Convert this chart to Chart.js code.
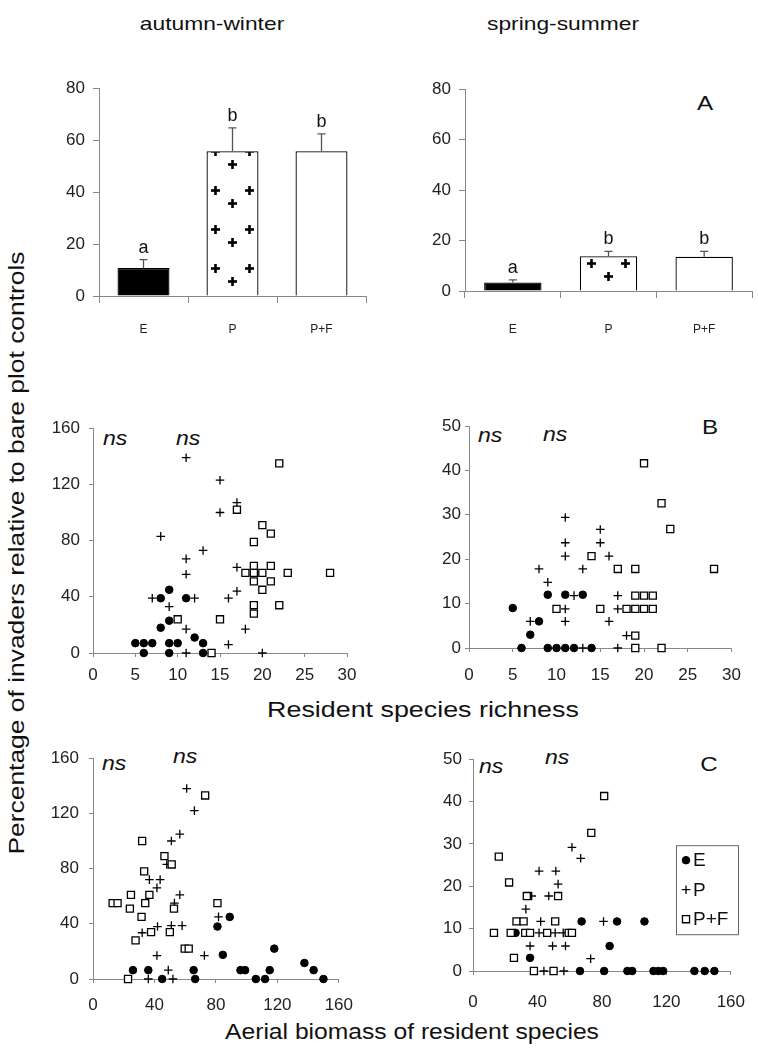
<!DOCTYPE html>
<html>
<head>
<meta charset="utf-8">
<script src="https://cdn.jsdelivr.net/npm/chart.js@4.4.1/dist/chart.umd.min.js"></script>
<style>
  body { margin: 0; background: #fff; }
  #page { position: relative; width: 758px; height: 1054px; overflow: hidden;
          font-family: "Liberation Sans", Arial, sans-serif; color: #111; }
  .panel { position: absolute; }
  .t { position: absolute; white-space: nowrap; line-height: 1; }
  .c { transform: translate(-50%, -50%) scaleX(1.2); }
  .ns { font-style: italic; font-size: 21px; transform-origin: left center; transform: translate(0, -50%) scaleX(1.1); }
  .lt { font-size: 21px; transform: translate(-50%, -50%) scaleX(1.15); }
</style>
</head>
<body>
<div id="page">
  <div class="t c" style="left:212px; top:23px; font-size:19px;">autumn-winter</div>
  <div class="t c" style="left:563px; top:23px; font-size:19px;">spring-summer</div>

  <div class="t" style="left:17px; top:553px; font-size:22px; transform: translate(-50%, -50%) rotate(-90deg) scaleX(1.2);">Percentage of invaders relative to bare plot controls</div>
  <div class="t c" style="left:423px; top:710px; font-size:22px; transform: translate(-50%, -50%) scaleX(1.22);">Resident species richness</div>
  <div class="t c" style="left:412px; top:1032px; font-size:22px; transform: translate(-50%, -50%) scaleX(1.12);">Aerial biomass of resident species</div>

  <div class="t lt" style="left:705px; top:102px;">A</div>
  <div class="t lt" style="left:710px; top:426px;">B</div>
  <div class="t lt" style="left:709px; top:763px;">C</div>

  <div class="t ns" style="left:103px; top:437px;">ns</div>
  <div class="t ns" style="left:176px; top:437px;">ns</div>
  <div class="t ns" style="left:478px; top:434px;">ns</div>
  <div class="t ns" style="left:543px; top:433px;">ns</div>
  <div class="t ns" style="left:102px; top:762px;">ns</div>
  <div class="t ns" style="left:173px; top:755px;">ns</div>
  <div class="t ns" style="left:479px; top:765px;">ns</div>
  <div class="t ns" style="left:545px; top:756px;">ns</div>

  <div class="panel" id="pAw"><canvas id="chartAw"></canvas></div>
  <div class="panel" id="pSs"><canvas id="chartSs"></canvas></div>
  <div class="panel" id="pAwRich"><canvas id="chartAwRich"></canvas></div>
  <div class="panel" id="pSsRich"><canvas id="chartSsRich"></canvas></div>
  <div class="panel" id="pAwBio"><canvas id="chartAwBio"></canvas></div>
  <div class="panel" id="pSsBio"><canvas id="chartSsBio"></canvas></div>
</div>
<script>
// groups
const groups = ['E', 'P', 'P+F'];

// A: bars, mean % and error (upper)
const awMeans = [10.8, 55.7, 55.7];
const awErrors = [3.2, 9.0, 6.7];
const awLetters = ['a', 'b', 'b'];
const ssMeans = [3.4, 13.8, 13.6];
const ssErrors = [1.0, 1.9, 2.1];
const ssLetters = ['a', 'b', 'b'];

// tick labels
const barYTicks = [0, 20, 40, 60, 80];
const awYTicks = [0, 40, 80, 120, 160];
const ssYTicks = [0, 10, 20, 30, 40, 50];
const richXTicks = [0, 5, 10, 15, 20, 25, 30];
const bioXTicks = [0, 40, 80, 120, 160];

// B: autumn-winter, richness vs %
const awRichE = [[5,7],[6,7],[7,7],[9,7],[10,7],[13,7],[6,0],[9,0],[13,0],[8,18],[9,23],[9,45],[8,39],[11,39],[12,11]];
const awRichP = [[11,139],[15,123],[15,100],[17,107],[8,83],[13,73],[11,67],[11,56],[17,61],[7,39],[9,33],[12,39],[16,39],[17,44],[11,17],[18,17],[16,6],[11,0],[20,0]];
const awRichPF = [[22,135],[17,102],[20,91],[21,85],[19,79],[19,62],[21,62],[18,57],[19,57],[20,57],[23,57],[28,57],[19,51],[21,51],[20,45],[19,34],[19,28],[22,34],[10,24],[15,24],[14,0]];

// B: spring-summer
const ssRichE = [[5,9],[7,3],[6,0],[9,0],[10,0],[11,0],[12,0],[9,12],[11,12],[13,12],[8,6],[14,0]];
const ssRichP = [[11,29.4],[11,23.7],[11,20.7],[15,26.7],[15,23.7],[16,20.7],[8,17.8],[13,17.8],[9,14.8],[7,6],[11,6],[16,6],[12,11.8],[11,8.8],[17,11.8],[17,8.8],[18,2.8],[13,0],[17,0]];
const ssRichPF = [[20,41.6],[22,32.6],[23,26.8],[14,20.7],[17,17.8],[19,17.8],[28,17.8],[10,8.8],[15,8.8],[18,8.8],[19,8.8],[20,8.8],[21,8.8],[19,11.8],[20,11.8],[21,11.8],[19,2.8],[19,0],[22,0]];

// C: autumn-winter, biomass vs %
const awBioE = [[26,6.4],[36,6.4],[45,0],[65.5,6.4],[66.5,0],[81,38],[89,45],[84.5,17.5],[96,6.4],[99,6.4],[106,0],[112,0],[115,6.4],[118,22],[137.6,11.6],[143.6,6.4],[150,0]];
const awBioP = [[61,138],[66,122],[56.5,105],[51,100],[48,83],[36.7,72],[43.7,72],[41.6,66],[56.5,61],[53,55],[32,33.5],[42,38],[51,38.7],[58,38.7],[81.7,45],[41.6,17],[72.5,17],[49,6.4],[36,0],[52,0]];
const awBioPF = [[73,133],[32,100],[46.5,89],[51.2,83],[33.3,78],[24.7,61],[36.7,61],[12.8,55],[16,55],[34,55],[24,51],[52.7,51],[31.6,45],[81,55],[37.8,34],[50,34],[27.7,28],[59.7,22],[62.3,22],[22.8,0]];

// C: spring-summer
const ssBioE = [[67.4,11.7],[89.4,11.7],[106.4,11.7],[84.8,5.9],[35.4,3.1],[26.4,9],[66.4,0],[81.4,0],[95.8,0],[98.8,0],[112,0],[115,0],[118,0],[137.4,0],[143.8,0],[149.8,0]];
const ssBioP = [[61.4,29.2],[66.8,26.6],[41,23.6],[51.4,23.6],[52.8,20.5],[36.4,17.7],[47,17.7],[32.8,14.6],[42,11.7],[81,11.7],[41,9],[51,9],[56,9],[35.4,5.9],[49.4,5.9],[57.4,5.9],[73,2.9],[44,0],[56.4,0]];
const ssBioPF = [[81.4,41.3],[73.4,32.6],[16,27],[22.4,20.9],[33.4,17.7],[52.8,17.7],[27,11.7],[31.4,11.7],[51,11.7],[13,9],[23.4,9],[32.4,9],[35.4,9],[46,9],[59.4,9],[61.4,9],[25.4,3.1],[37.8,0],[50,0]];


const FONT = 'Liberation Sans, Arial, sans-serif';
const AXIS = '#888';
const PAD_L = 55, PAD_T = 15, PAD_R = 22, PAD_B = 55;

// size the canvas so the plot area lands on L,T,R,B of the page
function place(id, canvasId, L, T, R, B) {
    var wrap = document.getElementById(id);
    wrap.style.left = (L - PAD_L) + 'px';
    wrap.style.top = (T - PAD_T) + 'px';
    var cv = document.getElementById(canvasId);
    cv.width = R - L + PAD_L + PAD_R;
    cv.height = B - T + PAD_T + PAD_B;
    return cv.getContext('2d');
}

function rangeOf(ticks) {
    return { min: ticks[0], max: ticks[ticks.length - 1], stepSize: ticks[1] - ticks[0] };
}

function axis(ticks, pos, size, tickLen, pad) {
    var r = rangeOf(ticks);
    return {
        type: 'linear', position: pos, min: r.min, max: r.max,
        ticks: { stepSize: r.stepSize, color: '#222', font: { family: FONT, size: size }, padding: pad },
        grid: { drawOnChartArea: false, drawTicks: true, tickLength: tickLen, color: AXIS },
        border: { color: AXIS },
        afterFit: function(s) { if (pos === 'left') s.width = PAD_L; else s.height = PAD_B; }
    };
}

function plus(ctx, x, y) {
    ctx.fillRect(x - 4.5, y - 1.3, 9, 2.6);
    ctx.fillRect(x - 1.3, y - 4.5, 2.6, 9);
}

// error bars, letters and plus hatching on the P bar
const barDecor = {
    id: 'barDecor',
    afterDatasetsDraw: function(chart, args, opts) {
        if (!opts.errors) return;
        var ctx = chart.ctx, ys = chart.scales.y;
        var bars = chart.getDatasetMeta(0).data;
        var vals = chart.data.datasets[0].data;

        var hb = bars[1];
        var left = hb.x - hb.width / 2, top = hb.y, bottom = hb.base;
        ctx.save();
        ctx.beginPath();
        ctx.rect(left + 1, top + 1, hb.width - 2, bottom - top - 1);
        ctx.clip();
        ctx.fillStyle = '#000';
        for (var k = 0; bottom - 14 - 39 * k > top - 12; k++) {
            plus(ctx, hb.x - 17, bottom - 27 - 39 * k);
            plus(ctx, hb.x + 17, bottom - 27 - 39 * k);
            plus(ctx, hb.x, bottom - 14 - 39 * k);
        }
        ctx.restore();

        ctx.save();
        ctx.strokeStyle = '#555';
        ctx.lineWidth = 1.3;
        ctx.fillStyle = '#111';
        ctx.font = '18px ' + FONT;
        ctx.textAlign = 'center';
        ctx.textBaseline = 'alphabetic';
        bars.forEach(function(b, i) {
            var yTop = ys.getPixelForValue(vals[i] + opts.errors[i]);
            ctx.beginPath();
            ctx.moveTo(b.x, b.y);
            ctx.lineTo(b.x, yTop);
            ctx.moveTo(b.x - 4, yTop);
            ctx.lineTo(b.x + 4, yTop);
            ctx.stroke();
            ctx.fillText(opts.letters[i], b.x, yTop - 7);
        });
        ctx.restore();
    }
};

// framed legend inside the plot (panel C right)
const boxLegend = {
    id: 'boxLegend',
    afterDraw: function(chart, args, opts) {
        if (!opts.show) return;
        var ctx = chart.ctx, a = chart.chartArea;
        var x0 = a.left + opts.dx, y0 = a.top + opts.dy;
        ctx.save();
        ctx.fillStyle = '#fff';
        ctx.fillRect(x0, y0, opts.w, opts.h);
        ctx.strokeStyle = '#666';
        ctx.lineWidth = 1;
        ctx.strokeRect(x0 + 0.5, y0 + 0.5, opts.w, opts.h);
        chart.data.datasets.forEach(function(ds, i) {
            var y = y0 + 15 + i * 29.5;
            ctx.fillStyle = ds.backgroundColor;
            ctx.strokeStyle = ds.borderColor;
            ctx.lineWidth = ds.borderWidth;
            Chart.helpers.drawPoint(ctx, { pointStyle: ds.pointStyle, radius: ds.pointRadius, borderWidth: ds.borderWidth, rotation: 0 }, x0 + 10, y);
            ctx.fillStyle = '#111';
            ctx.font = '19px ' + FONT;
            ctx.textBaseline = 'middle';
            ctx.fillText(ds.label, x0 + 17, y + 1);
        });
        ctx.restore();
    }
};

Chart.register(barDecor, boxLegend);


function barChart(ctx, means, errors, letters, barPct, labelPad) {
    return new Chart(ctx, {
        type: 'bar',
        data: {
            labels: groups,
            datasets: [{
                data: means,
                backgroundColor: ['#000', '#fff', '#fff'],
                borderColor: '#000',
                borderWidth: 1.3,
                barPercentage: barPct,
                categoryPercentage: 1
            }]
        },
        options: {
            responsive: false,
            animation: false,
            layout: { padding: { left: 0, top: PAD_T, right: PAD_R, bottom: 0 } },
            plugins: {
                legend: { display: false },
                tooltip: { enabled: false },
                barDecor: { errors: errors, letters: letters }
            },
            scales: {
                x: {
                    offset: true,
                    ticks: { color: '#222', font: { family: FONT, size: 12 }, padding: labelPad },
                    grid: { offset: true, drawOnChartArea: false, drawTicks: true, tickLength: 7, color: AXIS },
                    border: { color: AXIS },
                    afterFit: function(s) { s.height = PAD_B; }
                },
                y: axis(barYTicks, 'left', 17, 6, 8)
            }
        }
    });
}

function scatterChart(ctx, e, p, pf, xTicks, yTicks, xPad, yPad, legend) {
    var toXY = function(arr) { return arr.map(function(d) { return { x: d[0], y: d[1] }; }); };
    return new Chart(ctx, {
        type: 'scatter',
        data: {
            datasets: [{
                label: 'E', data: toXY(e), pointStyle: 'circle', pointRadius: 3.8,
                backgroundColor: '#000', borderColor: '#000', borderWidth: 1, order: 3, clip: false
            }, {
                label: 'P', data: toXY(p), pointStyle: 'cross', pointRadius: 4.3,
                backgroundColor: '#000', borderColor: '#000', borderWidth: 1.3, order: 2, clip: false
            }, {
                label: 'P+F', data: toXY(pf), pointStyle: 'rect', pointRadius: 5,
                backgroundColor: '#fff', borderColor: '#000', borderWidth: 1.3, order: 1, clip: false
            }]
        },
        options: {
            responsive: false,
            animation: false,
            layout: { padding: { left: 0, top: PAD_T, right: PAD_R, bottom: 0 } },
            plugins: {
                legend: { display: false },
                tooltip: { enabled: false },
                boxLegend: legend || { show: false }
            },
            scales: {
                x: axis(xTicks, 'bottom', 17, 4, xPad),
                y: axis(yTicks, 'left', 17, 4, yPad)
            }
        }
    });
}

// A
barChart(place('pAw', 'chartAw', 99, 85, 366, 296), awMeans, awErrors, awLetters, 0.584, 19);
barChart(place('pSs', 'chartSs', 465, 86, 752, 291), ssMeans, ssErrors, ssLetters, 0.6, 24);

// B
scatterChart(place('pAwRich', 'chartAwRich', 93, 424, 347, 653), awRichE, awRichP, awRichPF, richXTicks, awYTicks, 8, 9);
scatterChart(place('pSsRich', 'chartSsRich', 469, 426, 732, 648), ssRichE, ssRichP, ssRichPF, richXTicks, ssYTicks, 13, 4);

// C
scatterChart(place('pAwBio', 'chartAwBio', 93, 753, 343, 979), awBioE, awBioP, awBioPF, bioXTicks, awYTicks, 12, 10);
scatterChart(place('pSsBio', 'chartSsBio', 473, 757, 740, 971), ssBioE, ssBioP, ssBioPF, bioXTicks, ssYTicks, 17, 7,
    { show: true, dx: 203, dy: 86, w: 62, h: 89 });
</script>
</body>
</html>
